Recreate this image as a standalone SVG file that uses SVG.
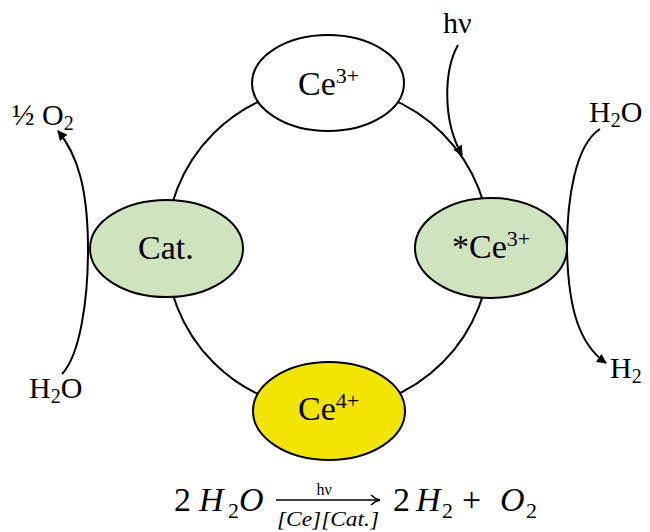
<svg xmlns="http://www.w3.org/2000/svg" width="650" height="532" viewBox="0 0 650 532">
<style>
.e{stroke:#000;stroke-width:2}
.l{fill:none;stroke:#000;stroke-width:2}
.t{font-family:"Liberation Serif","Times New Roman",serif;fill:#000}
.n{font-size:34px}
.s{font-size:22px}
.o{font-size:30px}
.m{font-family:"Liberation Serif","Times New Roman",serif;font-size:34px;fill:#000}
.b{font-size:22px}
.i{font-style:italic}
</style>
<defs>
<marker id="ah" viewBox="0 0 10 10" refX="9" refY="5" markerWidth="5" markerHeight="5" orient="auto" markerUnits="strokeWidth">
<path d="M0,0 L10,5 L0,10 Z" fill="#000"/>
</marker>
</defs>
<g id="connectors">
<circle class="l" cx="328" cy="248" r="162"/>
<path class="l" d="M458,45 C444,70 442,120 462,155" marker-end="url(#ah)"/>
<path class="l" d="M600,129 C575,145 567,200 567,248 C568,310 580,345 606,363" marker-end="url(#ah)"/>
<path class="l" d="M62,374 C80,355 88,300 88,250 C88,190 78,155 58,131" marker-end="url(#ah)"/>
</g>
<g id="ce3">
<ellipse class="e" cx="328" cy="83" rx="76" ry="48" fill="#fff"/>
<text class="t n" x="298" y="95">Ce<tspan class="s" dy="-12">3+</tspan></text>
</g>
<g id="cat">
<ellipse class="e" cx="166.5" cy="248.5" rx="76.5" ry="48.5" fill="#cfe3bf"/>
<text class="t n" x="138" y="259">Cat.</text>
</g>
<g id="ce3star">
<ellipse class="e" cx="491" cy="248" rx="76" ry="50" fill="#cfe3bf"/>
<text class="t n" x="452" y="258">*Ce<tspan class="s" dy="-12">3+</tspan></text>
</g>
<g id="ce4">
<ellipse class="e" cx="329" cy="411" rx="76" ry="49" fill="#f2e600"/>
<text class="t n" x="298" y="420">Ce<tspan class="s" dy="-12">4+</tspan></text>
</g>
<g id="labels">
<text class="t o" x="443" y="33">hν</text>
<text class="t o" x="589" y="122">H<tspan font-size="20" dy="5">2</tspan><tspan dy="-5">O</tspan></text>
<text class="t o" x="610" y="378">H<tspan font-size="20" dy="5">2</tspan></text>
<text class="t o" x="12" y="125">½ O<tspan font-size="20" dy="5">2</tspan></text>
<text class="t o" x="29" y="398">H<tspan font-size="20" dy="5">2</tspan><tspan dy="-5">O</tspan></text>
</g>
<g id="equation">
<text class="m" x="174" y="511">2</text>
<text class="m i" x="199" y="511">H</text>
<text class="m b" x="228" y="518">2</text>
<text class="m i" x="239" y="511">O</text>
<line x1="276" y1="500" x2="377" y2="500" stroke="#000" stroke-width="1.5"/>
<path d="M371,495 Q375,499 380,500 Q375,501 371,505" fill="none" stroke="#000" stroke-width="1.5"/>
<text class="t" x="324" y="495" font-size="16" text-anchor="middle">hν</text>
<text class="t i" x="328" y="526" font-size="21" text-anchor="middle" textLength="102" lengthAdjust="spacingAndGlyphs">[Ce][Cat.]</text>
<text class="m" x="393" y="511">2</text>
<text class="m i" x="416" y="511">H</text>
<text class="m b" x="442" y="518">2</text>
<text class="m" x="462" y="511">+</text>
<text class="m i" x="500" y="511">O</text>
<text class="m b" x="526" y="518">2</text>
</g>
</svg>
